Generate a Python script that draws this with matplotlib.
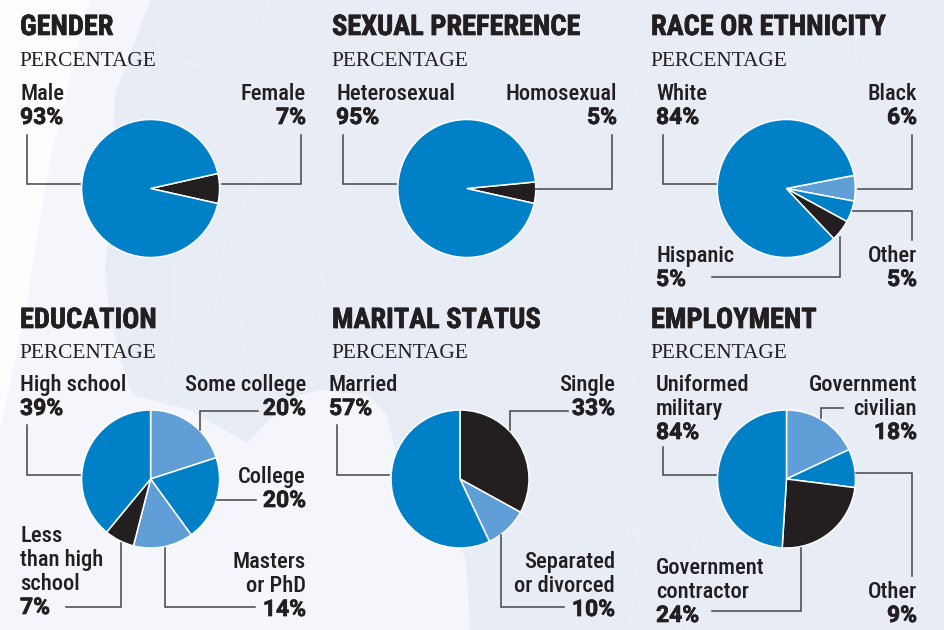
import matplotlib
matplotlib.use("Agg")
import matplotlib.pyplot as plt
import matplotlib.patheffects as pe
from matplotlib.patches import Polygon

BLUE = "#0080c6"
LIGHT = "#5f9ed6"
BLACK = "#231f20"
LAND = "#e8ecf5"
SHELF = "#f4f6fb"
LINE = "#444446"

# titles
top_titles = ["GENDER", "SEXUAL PREFERENCE", "RACE OR ETHNICITY"]
bottom_titles = ["EDUCATION", "MARITAL STATUS", "EMPLOYMENT"]
subtitle = "PERCENTAGE"

# values, in drawing order
gender_values = [7, 93]
sexual_values = [5, 95]
race_values = [6, 5, 5, 84]
education_values = [20, 20, 14, 7, 39]
marital_values = [33, 10, 57]
employment_values = [18, 9, 24, 49]

# labels (the 84% under Uniformed military is what the graphic prints)
gender_labels = [["Male", "93%"], ["Female", "7%"]]
sexual_labels = [["Heterosexual", "95%"], ["Homosexual", "5%"]]
race_labels = [["White", "84%"], ["Black", "6%"], ["Hispanic", "5%"], ["Other", "5%"]]
education_labels = [["High school", "39%"], ["Some college", "20%"], ["College", "20%"],
                    ["Less", "than high", "school", "7%"], ["Masters", "or PhD", "14%"]]
marital_labels = [["Married", "57%"], ["Single", "33%"], ["Separated", "or divorced", "10%"]]
employment_labels = [["Uniformed", "military", "84%"], ["Government", "civilian", "18%"],
                     ["Government", "contractor", "24%"], ["Other", "9%"]]

H = 630
NARROW = ["Roboto Condensed", "DejaVu Sans"]
WIDE = ["Roboto", "DejaVu Sans"]
SERIF = ["Liberation Serif", "DejaVu Serif"]
HEAVY = [pe.withStroke(linewidth=0.5, foreground=BLACK)]


def up(points):
    return [(x, H - y) for x, y in points]


def add_pie(ax, values, colors, cx, cy, start):
    ax.pie(values, colors=colors, center=(cx, H - cy), radius=69, startangle=start,
           counterclock=False, wedgeprops={"edgecolor": "white", "linewidth": 1.1})


def add_label(ax, x, y, lines, ha="left"):
    # y is the first baseline, the last line is the bold percentage
    for i, line in enumerate(lines):
        yy = H - (y + i * 24)
        if i == len(lines) - 1:
            ax.text(x, yy, line, ha=ha, va="baseline", family=WIDE, fontsize=16.5,
                    fontweight="bold", color=BLACK, zorder=5, path_effects=HEAVY)
        else:
            ax.text(x, yy, line, ha=ha, va="baseline", family=NARROW, fontsize=16.2,
                    fontweight=500, color=BLACK, zorder=5)


def add_header(ax, x, y, title, y_sub):
    ax.text(x, H - y, title, family=NARROW, fontsize=20.4, fontweight="bold", color=BLACK,
            va="baseline", path_effects=HEAVY)
    ax.text(x - 1, H - y_sub, subtitle, family=SERIF, fontsize=15.4, color=BLACK, va="baseline")


def leader(ax, points):
    xs, ys = zip(*up(points))
    ax.plot(xs, ys, color=LINE, lw=1.1, solid_joinstyle="miter", zorder=4)


fig = plt.figure(figsize=(9.44, 6.3), dpi=100, facecolor="#fdfdfe")
ax = fig.add_axes([0, 0, 1, 1])

# map in the background
ax.add_patch(Polygon(up([(90, 0), (944, 0), (944, 630), (0, 630), (0, 430), (25, 315), (50, 160)]),
                     facecolor=SHELF, edgecolor="none", zorder=0))
ax.add_patch(Polygon(up([(150, 0), (944, 0), (944, 630), (470, 630), (466, 560), (440, 500), (400, 470),
                         (387, 415), (367, 395), (320, 390), (300, 395), (267, 422), (247, 443),
                         (233, 435), (190, 410), (133, 395), (120, 358), (110, 315), (105, 270),
                         (112, 200), (115, 95)]),
                     facecolor=LAND, edgecolor="none", zorder=0))
borders = [
    [(268, 0), (253, 66), (203, 66), (180, 62), (178, 85), (160, 60), (158, 30)],
    [(330, 80), (300, 95), (262, 170), (225, 240), (215, 310), (240, 315), (250, 395)],
    [(258, 222), (320, 220), (345, 195), (360, 160), (340, 125), (330, 80)],
    [(175, 260), (175, 315), (165, 395)],
    [(305, 222), (325, 290), (305, 380)],
    [(520, 140), (560, 140), (600, 160), (640, 230), (620, 320)],
    [(690, 0), (640, 80), (620, 130)],
    [(860, 0), (855, 50), (860, 85), (830, 130)],
    [(880, 225), (944, 268)],
    [(640, 360), (620, 415), (600, 465), (630, 510), (625, 560)],
    [(500, 530), (640, 530), (630, 630)],
    [(730, 490), (700, 520), (680, 630)],
    [(720, 420), (760, 395), (880, 440), (944, 420)],
]
for border in borders:
    xs, ys = zip(*up(border))
    ax.plot(xs, ys, color="#eef1f8", lw=0.9, zorder=1)

# panel headers
columns = [20, 332, 651]
for x, title in zip(columns, top_titles):
    add_header(ax, x, 35, title, 66)
for x, title in zip(columns, bottom_titles):
    add_header(ax, x, 328, title, 358)

# pies
add_pie(ax, gender_values, [BLACK, BLUE], 150.6, 188.5, 12.6)
add_pie(ax, sexual_values, [BLACK, BLUE], 466.8, 188.5, 5.5)
add_pie(ax, race_values, [LIGHT, BLUE, BLACK, BLUE], 786.3, 188.5, 11)
add_pie(ax, education_values, [LIGHT, BLUE, LIGHT, BLACK, BLUE], 150.6, 479, 90)
add_pie(ax, marital_values, [BLACK, LIGHT, BLUE], 460, 479, 90)
add_pie(ax, employment_values, [LIGHT, BLUE, BLACK, BLUE], 786.5, 479, 90)

# labels
add_label(ax, 20, 100, gender_labels[0])
add_label(ax, 306, 100, gender_labels[1], "right")
add_label(ax, 336, 100, sexual_labels[0])
add_label(ax, 617, 100, sexual_labels[1], "right")
add_label(ax, 656, 100, race_labels[0])
add_label(ax, 917, 100, race_labels[1], "right")
add_label(ax, 656, 262, race_labels[2])
add_label(ax, 917, 262, race_labels[3], "right")
add_label(ax, 20, 391, education_labels[0])
add_label(ax, 306, 391, education_labels[1], "right")
add_label(ax, 306, 483, education_labels[2], "right")
add_label(ax, 20, 542, education_labels[3])
add_label(ax, 306, 568, education_labels[4], "right")
add_label(ax, 329, 391, marital_labels[0])
add_label(ax, 615, 391, marital_labels[1], "right")
add_label(ax, 615, 568, marital_labels[2], "right")
add_label(ax, 656, 391, employment_labels[0])
add_label(ax, 917, 391, employment_labels[1], "right")
add_label(ax, 656, 574, employment_labels[2])
add_label(ax, 917, 598, employment_labels[3], "right")

# leader lines
leader(ax, [(27, 135), (27, 184), (80, 184)])
leader(ax, [(301, 135), (301, 184), (222, 184)])
leader(ax, [(343, 135), (343, 184), (396, 184)])
leader(ax, [(612, 135), (612, 189), (535, 189)])
leader(ax, [(663, 135), (663, 184), (716, 184)])
leader(ax, [(912, 135), (912, 189), (858, 189)])
leader(ax, [(912, 240), (912, 211), (853, 211)])
leader(ax, [(840, 237), (840, 277), (712, 277)])
leader(ax, [(27, 425), (27, 475), (80, 475)])
leader(ax, [(258, 411), (200, 411), (200, 430)])
leader(ax, [(256, 500), (217, 500)])
leader(ax, [(121, 543), (121, 607), (66, 607)])
leader(ax, [(165, 548), (165, 607), (255, 607)])
leader(ax, [(337, 425), (337, 475), (389, 475)])
leader(ax, [(568, 411), (510, 411), (510, 430)])
leader(ax, [(501, 535), (501, 607), (564, 607)])
leader(ax, [(663, 447), (663, 475), (716, 475)])
leader(ax, [(843, 408), (821, 408), (821, 418)])
leader(ax, [(856, 473), (912, 473), (912, 576)])
leader(ax, [(801, 548), (801, 611), (712, 611)])

ax.set_aspect("equal")
ax.set_xlim(0, 944)
ax.set_ylim(0, H)
ax.axis("off")

fig.savefig("out.png", dpi=100, facecolor=fig.get_facecolor())
